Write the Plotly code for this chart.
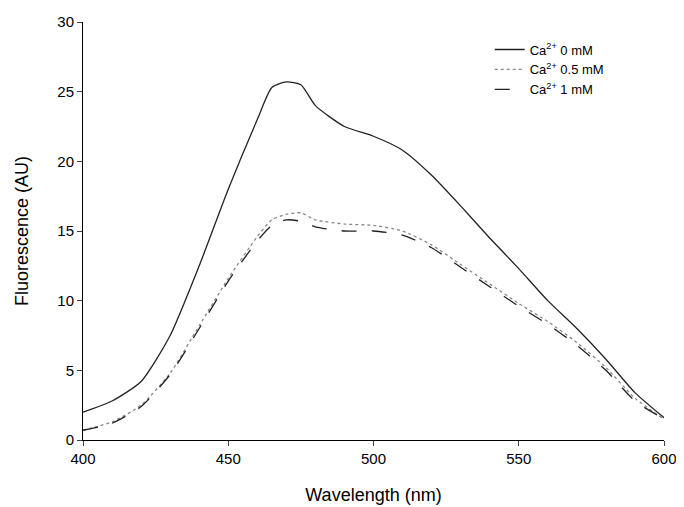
import plotly.graph_objects as go

wl = [400,410,420,430,440,450,460,465,470,475,480,490,500,510,520,530,540,550,560,570,580,590,600]
ca0 = [2.0,2.8,4.2,7.5,12.5,18.0,23.0,25.3,25.7,25.5,24.0,22.5,21.8,20.8,19.0,16.8,14.5,12.3,10.0,8.0,5.8,3.4,1.6]
ca05 = [0.7,1.3,2.5,4.8,8.2,11.6,14.6,15.8,16.2,16.3,15.8,15.5,15.4,15.0,14.0,12.6,11.2,9.8,8.5,7.0,5.2,3.0,1.5]
ca1 = [0.7,1.2,2.4,4.7,8.0,11.4,14.3,15.4,15.8,15.7,15.3,15.0,15.0,14.7,13.8,12.4,11.0,9.6,8.3,6.8,5.0,2.8,1.5]
names = ["Ca<sup>2+</sup> 0 mM","Ca<sup>2+</sup> 0.5 mM","Ca<sup>2+</sup> 1 mM"]

fig = go.Figure()
for y, n, d, c in [(ca0,names[0],"solid","#222"),(ca05,names[1],"dot","#888"),(ca1,names[2],"longdash","#222")]:
    fig.add_trace(go.Scatter(x=wl, y=y, name=n, mode="lines",
                             line=dict(color=c, dash=d, width=1.3, shape="spline", smoothing=0.6)))

ax = dict(showline=True, linecolor="black", ticks="outside", ticklen=5, showgrid=False, zeroline=False,
          automargin=False, tickfont=dict(size=15, color="black"), title_font=dict(size=18, color="black"))
fig.update_layout(width=684, height=507, plot_bgcolor="white", paper_bgcolor="white",
    font=dict(family="Liberation Sans, Arial"),
    margin=dict(l=75, r=28, t=14, b=75),
    xaxis=dict(ax, range=[400,600], dtick=50, title=dict(text="Wavelength (nm)", standoff=22)),
    yaxis=dict(ax, range=[0,30], dtick=5, title=dict(text="Fluorescence (AU)", standoff=24)),
    legend=dict(x=0.70, y=0.97, xanchor="left", yanchor="top", font=dict(size=13, color="black"),
                bgcolor="rgba(0,0,0,0)", itemwidth=30))
fig.write_html("out.html")
